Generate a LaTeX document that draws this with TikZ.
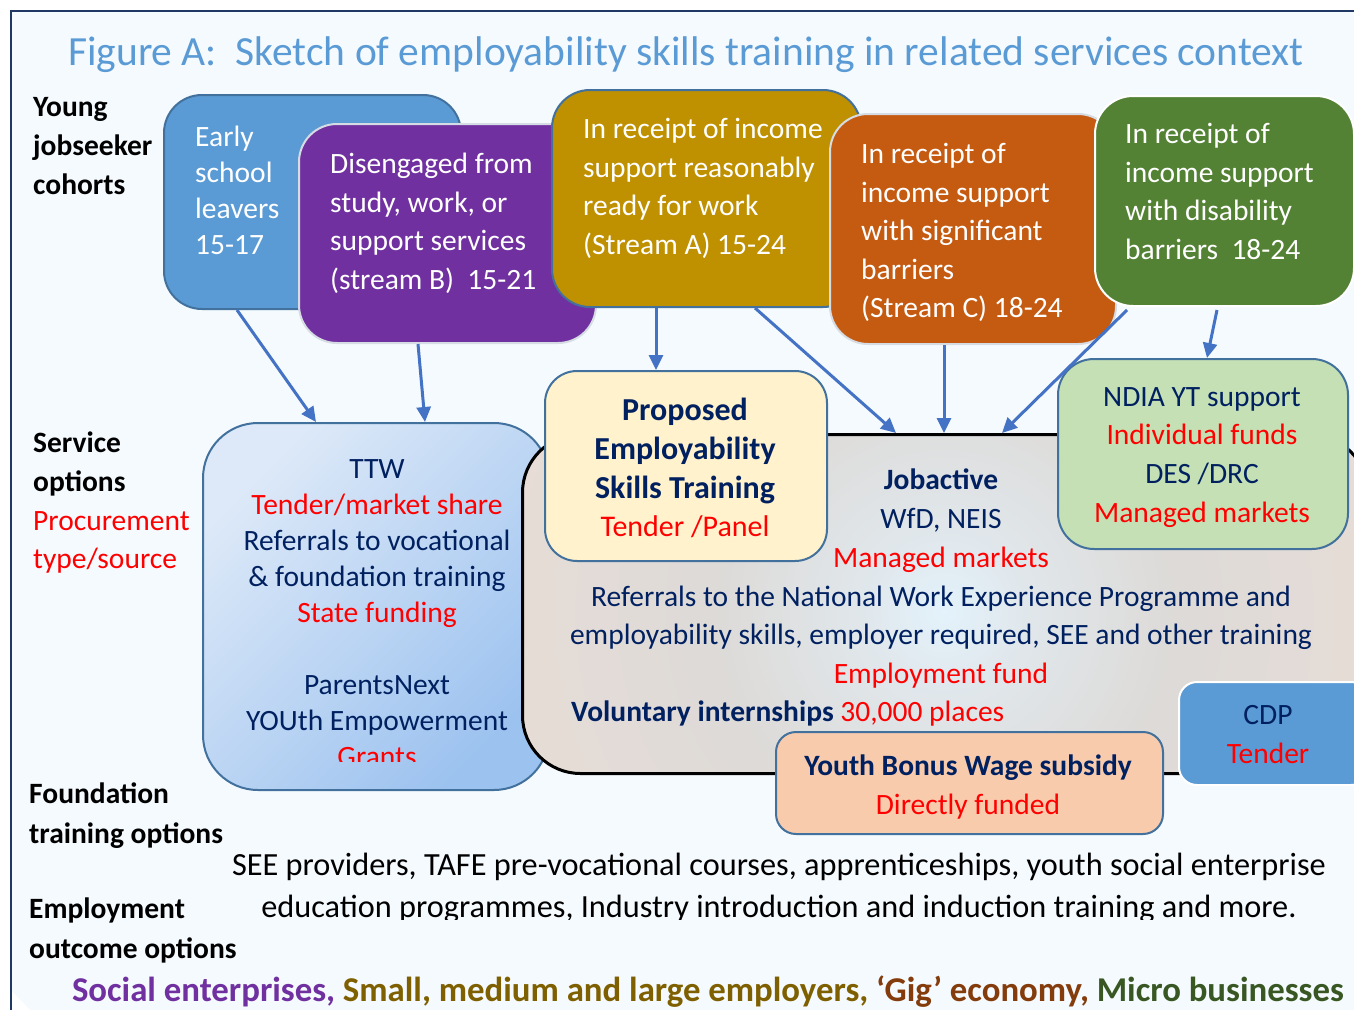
\documentclass[tikz,border=0pt]{standalone}
\usepackage{fontspec}
\setmainfont{Carlito}
\usetikzlibrary{arrows.meta,calc}

\definecolor{framenavy}{HTML}{1F3864}
\definecolor{titleblue}{HTML}{5B9BD5}
\definecolor{navy}{HTML}{002060}
\definecolor{alertred}{HTML}{FF0000}
\definecolor{edgeblue}{HTML}{41719C}
\definecolor{arrowblue}{HTML}{4472C4}
\definecolor{earlyfill}{HTML}{5B9BD5}
\definecolor{purplefill}{HTML}{7030A0}
\definecolor{goldfill}{HTML}{BF9000}
\definecolor{orangefill}{HTML}{C55A11}
\definecolor{greenfill}{HTML}{548235}
\definecolor{paleedge}{HTML}{D6DCE4}
\definecolor{proposedfill}{HTML}{FFF2CC}
\definecolor{ndiafill}{HTML}{C5E0B4}
\definecolor{wagefill}{HTML}{F8CBAD}
\definecolor{ttwlight}{HTML}{DDE9F8}
\definecolor{ttwdark}{HTML}{9CC2EF}
\definecolor{glowcore}{HTML}{E3F2FB}
\definecolor{glowmix}{HTML}{E0E6EA}
\definecolor{glowgrey}{HTML}{DDDAD7}
\definecolor{glowwarm}{HTML}{EADDD6}
\definecolor{glowpeach}{HTML}{F6E1D3}
\definecolor{bgpale}{HTML}{F5FAFE}
\definecolor{bgsoft}{HTML}{E6F0F7}
\definecolor{bgmid}{HTML}{D2E3EE}
\definecolor{bgdeep}{HTML}{B8D2E4}
\definecolor{socialpurple}{HTML}{7030A0}
\definecolor{employolive}{HTML}{7F6000}
\definecolor{gigbrown}{HTML}{843C0C}
\definecolor{microgreen}{HTML}{385723}

% soft glow in the middle of the mainstream services panel
\pgfdeclareradialshading{jobglow}{\pgfpointorigin}{%
  color(0bp)=(glowcore); color(5bp)=(glowmix); color(13bp)=(glowgrey);
  color(28bp)=(glowwarm); color(40bp)=(glowpeach); color(50bp)=(glowpeach)}

% page backdrop, paling towards the upper right
\pgfdeclareradialshading{backdrop}{\pgfpointorigin}{%
  color(0bp)=(bgpale); color(33bp)=(bgpale); color(40bp)=(bgsoft);
  color(45bp)=(bgmid); color(50bp)=(bgdeep)}

\tikzset{
  cohort/.style={draw, line width=2, rounded corners=38, anchor=north west, inner sep=0},
  optionbox/.style={draw=edgeblue, line width=2, anchor=north west, inner sep=0},
  whitetext/.style={text=white, align=left, anchor=north west, inner sep=0,
    font=\fontsize{29.5}{38.6}\selectfont},
  rowlabel/.style={text=black, align=left, anchor=north west, inner sep=0,
    font=\fontsize{29.5}{39.2}\selectfont\bfseries},
  boxtext/.style={text=navy, align=center, anchor=north, inner sep=0,
    font=\fontsize{29.5}{38.7}\selectfont},
  feed/.style={arrowblue, line width=3, -{Triangle[length=15pt,width=14pt]}},
}
\newcommand{\rd}[1]{\textcolor{alertred}{#1}}

\begin{document}
\begin{tikzpicture}[x=1pt,y=-1pt]
\useasboundingbox (0,0) rectangle (1354,1009);
\fill[white] (0,0) rectangle (1354,1009);
\begin{scope}
  \clip (10,10) rectangle (1354,1009);
  \shade[shading=backdrop] (900,150) circle (1223);
\end{scope}
\draw[framenavy, line width=2.5] (1360,11) -- (11,11) -- (11,1015);

% title
\node[text=titleblue, font=\fontsize{41.5}{44}\selectfont] (title) at (686,55)
  {Figure A:\ \ Sketch of employability skills training in related services context};

% row labels
\node[rowlabel] (rowcohorts) at (33,97) {Young\\jobseeker\\cohorts};
\node[rowlabel, font=\fontsize{29.5}{38.6}\selectfont] (rowservice) at (33,432)
  {\textbf{Service}\\\textbf{options}\\\rd{Procurement}\\\rd{type/source}};
\node[rowlabel] (rowfoundation) at (29,783) {Foundation\\training options};
\node[rowlabel] (rowemployment) at (29,898) {Employment\\outcome options};

% jobseeker cohorts
\node[cohort, fill=earlyfill, draw=edgeblue, minimum width=297, minimum height=214]
  (early) at (163,94) {};
\node[whitetext, font=\fontsize{29.5}{36}\selectfont] (earlytxt) at (195,126)
  {Early\\school\\leavers\\15-17};
\node[cohort, fill=purplefill, draw=paleedge, minimum width=297, minimum height=219]
  (diseng) at (298,123) {};
\node[whitetext] (disengtxt) at (330,153)
  {Disengaged from\\study, work, or\\support services\\(stream B)\ \ 15-21};
\node[cohort, fill=goldfill, draw=edgeblue, minimum width=309, minimum height=217]
  (streamA) at (551,89) {};
\node[whitetext] (streamAtxt) at (583,118)
  {In receipt of income\\support reasonably\\ready for work\\(Stream A) 15-24};
\node[cohort, fill=orangefill, draw=paleedge, minimum width=286, minimum height=230]
  (streamC) at (829,113) {};
\node[whitetext] (streamCtxt) at (861,143)
  {In receipt of\\income support\\with significant\\barriers\\(Stream C) 18-24};
\node[cohort, fill=greenfill, draw=white, minimum width=259, minimum height=210]
  (disab) at (1094,95) {};
\node[whitetext] (disabtxt) at (1125,123)
  {In receipt of\\income support\\with disability\\barriers\ \ 18-24};

% transition to work
\node[optionbox, rounded corners=55, top color=ttwlight, bottom color=ttwdark,
  shading angle=45, minimum width=346, minimum height=367] (ttw) at (202,422) {};
\begin{scope}
  \clip (202,422) rectangle (548,761);
  \node[boxtext, font=\fontsize{29.5}{36}\selectfont] (ttwtxt) at (377,459)
    {TTW\\\rd{Tender/market share}\\Referrals to vocational\\\& foundation training\\
     \rd{State funding}\\[36pt]ParentsNext\\YOUth Empowerment\\\rd{Grants}};
\end{scope}

% mainstream employment services panel
\node[draw=black, line width=3, rounded corners=58, anchor=north west, inner sep=0,
  fill=glowpeach, minimum width=845, minimum height=339,
  path picture={\shade[shading=jobglow]
    ([xshift=-1pt,yshift=-8pt]path picture bounding box.center) circle (450pt);}]
  (jobs) at (521,433) {};
\node[boxtext] (jobstxt) at (941,469)
  {\textbf{Jobactive}\\WfD, NEIS\\\rd{Managed markets}\\
   Referrals to the National Work Experience Programme and\\
   employability skills, employer required, SEE and other training\\
   \rd{Employment fund}};
\node[boxtext, anchor=north west, align=left] (interntxt) at (571,701)
  {\textbf{Voluntary internships} \rd{30,000 places}};

% proposed training
\node[optionbox, rounded corners=32, fill=proposedfill, minimum width=282, minimum height=190]
  (proposed) at (544,370) {};
\node[boxtext, font=\fontsize{32}{38.7}\selectfont] (proposedtxt) at (685,398)
  {\textbf{Proposed}\\\textbf{Employability}\\\textbf{Skills Training}\\
   {\fontsize{30}{38.7}\selectfont\rd{Tender /Panel}}};

% disability supports
\node[optionbox, rounded corners=36, fill=ndiafill, minimum width=290, minimum height=190]
  (ndia) at (1057,358) {};
\node[boxtext] (ndiatxt) at (1202,387)
  {NDIA YT support\\\rd{Individual funds}\\DES /DRC\\\rd{Managed markets}};

% wage subsidy
\node[optionbox, rounded corners=20, fill=wagefill, minimum width=387, minimum height=102]
  (wage) at (775,731) {};
\node[boxtext, font=\fontsize{29.5}{39}\selectfont] (wagetxt) at (968,755)
  {\textbf{Youth Bonus Wage subsidy}\\\rd{Directly funded}};

% remote communities
\node[optionbox, draw=white, rounded corners=18, fill=earlyfill, minimum width=190, minimum height=103]
  (cdp) at (1178,681) {};
\node[boxtext, font=\fontsize{29.5}{39}\selectfont] (cdptxt) at (1268,705) {CDP\\\rd{Tender}};

% foundation training options
\begin{scope}
  \clip (0,0) rectangle (1354,919);
  \node[boxtext, text=black, font=\fontsize{32.3}{42}\selectfont] (seetxt) at (779,853)
    {SEE providers, TAFE pre-vocational courses, apprenticeships, youth social enterprise\\
     education programmes, Industry introduction and induction training and more.};
\end{scope}

% employment outcomes
\node[inner sep=0, font=\fontsize{34.8}{36}\selectfont\bfseries] (outcomes) at (708,992)
  {\textcolor{socialpurple}{Social enterprises,} \textcolor{employolive}{Small, medium and large employers,}
   \textcolor{gigbrown}{‘Gig’ economy,} \textcolor{microgreen}{Micro businesses}};

% referral paths
\draw[feed] ($(early.south west)+(74,0)$) -- ($(ttw.north west)+(114,0)$);
\draw[feed] ($(diseng.south west)+(120,0)$) -- ($(ttw.north west)+(223,0)$);
\draw[feed] ($(streamA.south west)+(105,0)$) -- ($(proposed.north west)+(112,0)$);
\draw[feed] ($(streamA.south west)+(204,0)$) -- ($(jobs.north west)+(375,0)$);
\draw[feed] ($(streamC.south west)+(115,0)$) -- ($(jobs.north west)+(423,0)$);
\draw[feed] ($(disab.south west)+(33,3)$) -- ($(jobs.north west)+(481,0)$);
\draw[feed] ($(disab.south west)+(123,3)$) -- ($(ndia.north west)+(150,0)$);
\end{tikzpicture}
\end{document}
